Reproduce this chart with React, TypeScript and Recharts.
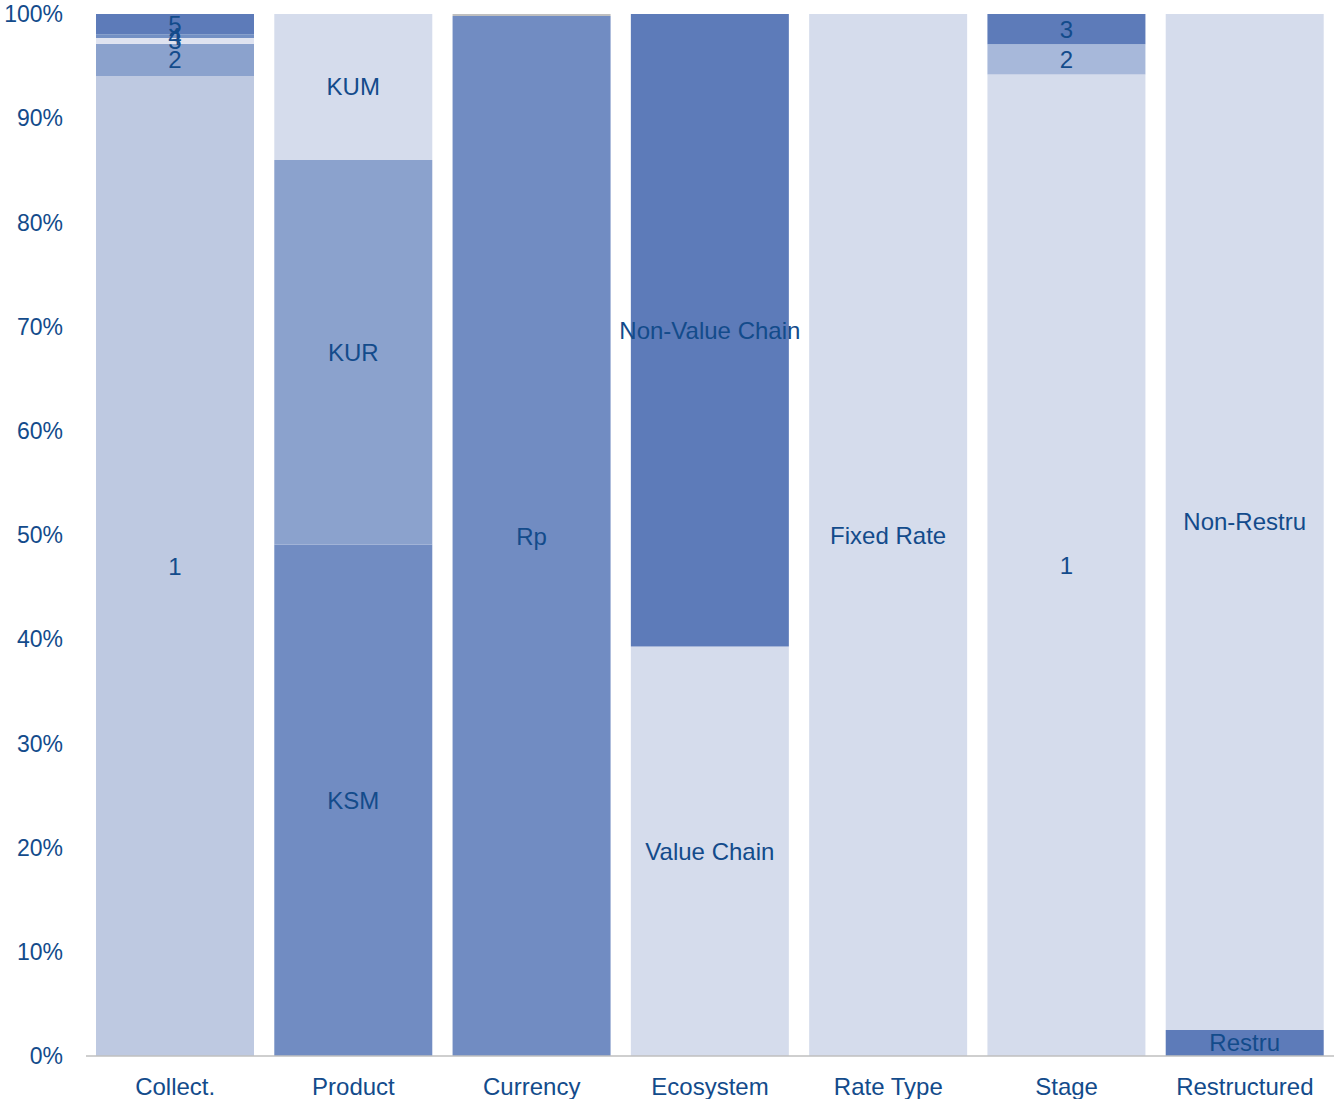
import { BarChart, Bar, XAxis, YAxis, Cell, LabelList } from "recharts";

// categories along the x axis
const categories = ["Collect.", "Product", "Currency", "Ecosystem", "Rate Type", "Stage", "Restructured"];

// stacked shares (%) per category, bottom segment first
const collectVals = [94.05, 3.1, 0.55, 0.35, 1.95];
const productVals = [49.1, 36.9, 14.0];
const currencyVals = [99.8, 0.2];
const ecosystemVals = [39.3, 60.7];
const rateTypeVals = [100];
const stageVals = [94.2, 2.9, 2.9];
const restructuredVals = [2.5, 97.5];

// segment labels, same order
const collectNames = ["1", "2", "3", "4", "5"];
const productNames = ["KSM", "KUR", "KUM"];
const currencyNames = ["Rp", ""];
const ecosystemNames = ["Value Chain", "Non-Value Chain"];
const rateTypeNames = ["Fixed Rate"];
const stageNames = ["1", "2", "3"];
const restructuredNames = ["Restru", "Non-Restru"];

const yTicks = [0, 10, 20, 30, 40, 50, 60, 70, 80, 90, 100];

// colours per segment
const collectColors = ["#bec9e1", "#8ba2cd", "#dfe3f0", "#7390c4", "#5d7bb9"];
const productColors = ["#718cc2", "#8ba2cd", "#d5dcec"];
const currencyColors = ["#718cc2", "#bfbfbf"];
const ecosystemColors = ["#d5dcec", "#5d7bb9"];
const rateTypeColors = ["#d5dcec"];
const stageColors = ["#d5dcec", "#a7b8da", "#5d7bb9"];
const restructuredColors = ["#5d7bb9", "#d5dcec"];

const allVals = [collectVals, productVals, currencyVals, ecosystemVals, rateTypeVals, stageVals, restructuredVals];
const allNames = [collectNames, productNames, currencyNames, ecosystemNames, rateTypeNames, stageNames, restructuredNames];
const allColors = [collectColors, productColors, currencyColors, ecosystemColors, rateTypeColors, stageColors, restructuredColors];

const SEGMENTS = [0, 1, 2, 3, 4];
const TEXT = "#134b8b";
const FONT = "'Liberation Sans', Arial, sans-serif";

const rows = categories.map((name, i) => {
  const row: any = { name };
  SEGMENTS.forEach((s) => {
    row[`v${s}`] = allVals[i][s] ?? 0;
    row[`l${s}`] = allNames[i][s] ?? "";
  });
  return row;
});

export default function App() {
  return (
    <div style={{ position: "absolute", left: 0, top: 0 }}>
      <BarChart
        width={1334}
        height={1099}
        data={rows}
        margin={{ top: 14, right: 0, bottom: 0, left: 0 }}
        barSize={158}
      >
        <XAxis
          dataKey="name"
          tickLine={false}
          axisLine={{ stroke: "#bfbfbf", strokeWidth: 1.5 }}
          tickMargin={16}
          height={43}
          tick={{ fill: TEXT, fontSize: 24, fontFamily: FONT }}
          interval={0}
        />
        <YAxis
          type="number"
          domain={[0, 100]}
          ticks={yTicks}
          tickFormatter={(v) => `${v}%`}
          axisLine={false}
          tickLine={false}
          tickMargin={17}
          width={86}
          tick={{ fill: TEXT, fontSize: 23, fontFamily: FONT }}
        />
        {SEGMENTS.map((s) => (
          <Bar key={s} dataKey={`v${s}`} stackId="a" isAnimationActive={false}>
            {rows.map((_, i) => (
              <Cell key={i} fill={allColors[i][s] ?? "#ffffff"} />
            ))}
            <LabelList
              dataKey={`l${s}`}
              position="center"
              fill={TEXT}
              fontSize={24}
              fontFamily={FONT}
            />
          </Bar>
        ))}
      </BarChart>
    </div>
  );
}
